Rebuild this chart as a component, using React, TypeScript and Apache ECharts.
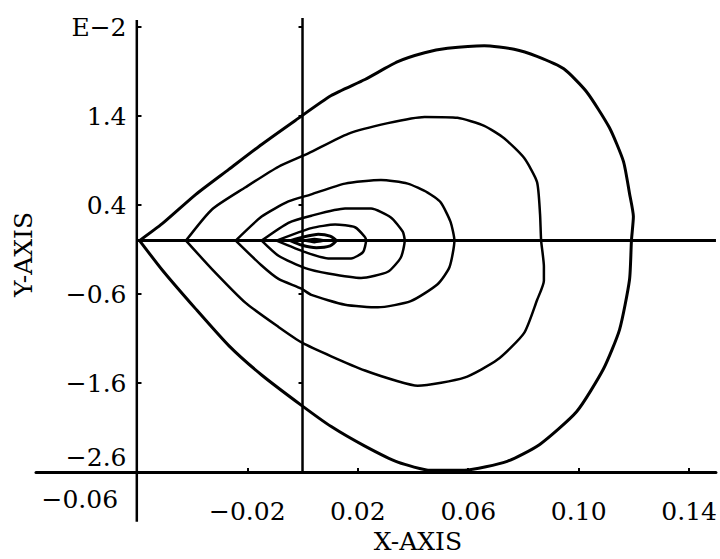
import React, { useEffect, useRef } from "react";
import * as echarts from "echarts";

// Axis ranges and ticks (y values are in units of 1E-2)
const X_VIEW_MIN = -0.0965; // the x-axis line runs on left of the y-axis
const X_VIEW_MAX = 0.1497;
const X_TICKS = [-0.06, -0.02, 0.02, 0.06, 0.1, 0.14];
const X_TICK_LABELS = ["−0.06", "−0.02", "0.02", "0.06", "0.10", "0.14"];
const Y_MIN = -2.6;
const Y_MAX = 2.4;
const Y_STEP = 1.0;
const Y_TICK_LABELS = ["−2.6", "−1.6", "−0.6", "0.4", "1.4", "E−2"];
const X_NAME = "X-AXIS";
const Y_NAME = "Y-AXIS";

// Reference lines: y-axis line (runs past both ends), the zero lines
const yAxisLine: [number, number][] = [[-0.06, -3.16], [-0.06, 2.48]];
const zeroHorizontal: [number, number][] = [[-0.06, 0], [0.1497, 0]];
const zeroVertical: [number, number][] = [[0, -2.6], [0, 2.5]];

// Closed trajectories
const curve1: [number, number][] = [
  [-0.059, 0], [-0.0508, 0.19], [-0.0386, 0.52], [-0.0267, 0.8], [-0.0148, 1.08],
  [-0.0026, 1.35], [0.0104, 1.63], [0.0226, 1.81], [0.0345, 2.01], [0.0442, 2.11],
  [0.0525, 2.16], [0.0658, 2.19], [0.0766, 2.15], [0.0849, 2.07], [0.0946, 1.93],
  [0.1029, 1.67], [0.1111, 1.27], [0.1162, 0.89], [0.1184, 0.53], [0.1198, 0.27],
  [0.1191, 0.0], [0.1184, -0.44], [0.1148, -1.0], [0.109, -1.44], [0.0993, -1.92],
  [0.0859, -2.29], [0.0741, -2.48], [0.0586, -2.58], [0.0464, -2.58], [0.0345, -2.49],
  [0.0226, -2.31], [0.0104, -2.09], [0.0, -1.86], [-0.0148, -1.51], [-0.0267, -1.18],
  [-0.0386, -0.77], [-0.0508, -0.33], [-0.059, 0],
];
const curve2: [number, number][] = [
  [-0.0422, 0], [-0.0328, 0.35], [-0.0206, 0.6], [-0.0087, 0.83], [0.0021, 0.98],
  [0.0165, 1.2], [0.0309, 1.32], [0.0442, 1.39], [0.0561, 1.38], [0.0658, 1.29],
  [0.073, 1.15], [0.0802, 0.93], [0.0849, 0.66], [0.086, 0.3], [0.0864, 0],
  [0.0874, -0.29], [0.0874, -0.45], [0.0849, -0.67], [0.0802, -1.04], [0.0705, -1.34],
  [0.0586, -1.54], [0.0417, -1.63], [0.0345, -1.58], [0.0226, -1.46], [0.0104, -1.3],
  [0.0, -1.15], [-0.0087, -0.97], [-0.0206, -0.7], [-0.0328, -0.32], [-0.0422, 0],
];
const curve3: [number, number][] = [
  [-0.0242, 0], [-0.0148, 0.27], [-0.0051, 0.44], [0.0032, 0.52], [0.0154, 0.64],
  [0.0284, 0.68], [0.0381, 0.64], [0.0453, 0.54], [0.05, 0.43], [0.0536, 0.21],
  [0.055, 0], [0.0532, -0.3], [0.0489, -0.49], [0.0392, -0.68], [0.0273, -0.75],
  [0.0154, -0.72], [0.0032, -0.61], [-0.0004, -0.54], [-0.0087, -0.43], [-0.0148, -0.28],
  [-0.0242, 0],
];
const curve4: [number, number][] = [
  [-0.0148, 0], [-0.0051, 0.2], [0.0032, 0.28], [0.0154, 0.36], [0.0248, 0.36],
  [0.032, 0.26], [0.0363, 0.1], [0.037, 0], [0.0356, -0.19], [0.0309, -0.35],
  [0.0212, -0.42], [0.0093, -0.37], [0.001, -0.31], [-0.0087, -0.17], [-0.0148, 0],
];
const curve5: [number, number][] = [
  [-0.0094, 0], [0.0032, 0.14], [0.0118, 0.18], [0.019, 0.15], [0.0226, 0.04],
  [0.023, 0], [0.0219, -0.13], [0.0176, -0.2], [0.0093, -0.2], [0.001, -0.13],
  [-0.0094, 0],
];
const curve6: [number, number][] = [
  [-0.0044, 0], [0.0003, 0.04], [0.0057, 0.07], [0.01, 0.05], [0.0122, 0],
  [0.01, -0.06], [0.005, -0.08], [-0.0004, -0.05], [-0.0044, 0],
];
const curve7: [number, number][] = [
  [0.0003, 0], [0.0043, 0.02], [0.0082, 0], [0.0043, -0.02], [0.0003, 0],
];

const FONT = "DejaVu Serif";
const FS = 25;

export default function App() {
  const ref = useRef<HTMLDivElement>(null);

  useEffect(() => {
    if (!ref.current) return;
    const chart = echarts.init(ref.current, undefined, { renderer: "svg" });

    const lineSeries = (data: [number, number][], width: number, smooth: number | boolean) => ({
      type: "line",
      data,
      showSymbol: false,
      symbol: "none",
      smooth,
      clip: false,
      silent: true,
      lineStyle: { color: "#000", width },
    });

    const xFormatter = (v: number) => {
      let i = 0;
      X_TICKS.forEach((t, k) => {
        if (Math.abs(t - v) < Math.abs(X_TICKS[i] - v)) i = k;
      });
      const s = X_TICK_LABELS[i];
      return i === 0 ? `{lo|${s}}` : s;
    };
    const yFormatter = (v: number) => {
      const i = Math.round((v - Y_MIN) / Y_STEP);
      const s = Y_TICK_LABELS[i] ?? "";
      return i === 0 ? `{lo|${s}}` : s;
    };

    const yBase = {
      type: "value",
      min: Y_MIN,
      max: Y_MAX,
      interval: Y_STEP,
      position: "left",
      offset: -101.5,
      splitLine: { show: false },
      axisLine: { show: false },
    };

    chart.setOption({
      animation: false,
      backgroundColor: "#fff",
      grid: { left: 36, top: 27, right: 0, height: 450, containLabel: false },
      xAxis: {
        type: "value",
        min: X_VIEW_MIN,
        max: X_VIEW_MAX,
        splitLine: { show: false },
        axisLine: { show: true, onZero: false, lineStyle: { color: "#000", width: 3 } },
        axisTick: {
          show: true,
          inside: true,
          length: 4,
          customValues: X_TICKS,
          lineStyle: { color: "#000", width: 2 },
        },
        axisLabel: {
          customValues: X_TICKS,
          formatter: xFormatter,
          color: "#000",
          fontFamily: FONT,
          fontSize: FS,
          margin: 39,
          verticalAlign: "middle",
          rich: {
            lo: { color: "#000", fontFamily: FONT, fontSize: FS, padding: [0, 114, 24, 0] },
          },
        },
        name: X_NAME,
        nameLocation: "middle",
        nameGap: 57,
        nameTextStyle: { color: "#000", fontFamily: FONT, fontSize: FS, padding: [0, 0, 0, 84] },
      },
      yAxis: [
        {
          ...yBase,
          axisTick: { show: true, inside: false, length: 4, lineStyle: { color: "#000", width: 2 } },
          axisLabel: {
            formatter: yFormatter,
            color: "#000",
            fontFamily: FONT,
            fontSize: FS,
            margin: 11,
            rich: {
              lo: { color: "#000", fontFamily: FONT, fontSize: FS, padding: [0, 0, 30, 0] },
            },
          },
          name: Y_NAME,
          nameLocation: "middle",
          nameGap: 102,
          nameTextStyle: { color: "#000", fontFamily: FONT, fontSize: FS, padding: [0, 10, 0, 0] },
        },
        {
          ...yBase,
          axisTick: { show: true, inside: true, length: 4, lineStyle: { color: "#000", width: 2 } },
          axisLabel: { show: false },
        },
      ],
      series: [
        lineSeries(yAxisLine, 2.5, false),
        lineSeries(zeroHorizontal, 3, false),
        lineSeries(zeroVertical, 2.5, false),
        lineSeries(curve1, 3, 0.2),
        lineSeries(curve2, 2.5, 0.2),
        lineSeries(curve3, 2.5, 0.2),
        lineSeries(curve4, 2.5, 0.2),
        lineSeries(curve5, 2.5, 0.2),
        lineSeries(curve6, 3, 0.2),
        lineSeries(curve7, 2, 0.2),
      ],
    });

    return () => chart.dispose();
  }, []);

  return (
    <div
      ref={ref}
      style={{ position: "fixed", left: 0, top: 0, width: 720, height: 559, background: "#fff" }}
    />
  );
}
